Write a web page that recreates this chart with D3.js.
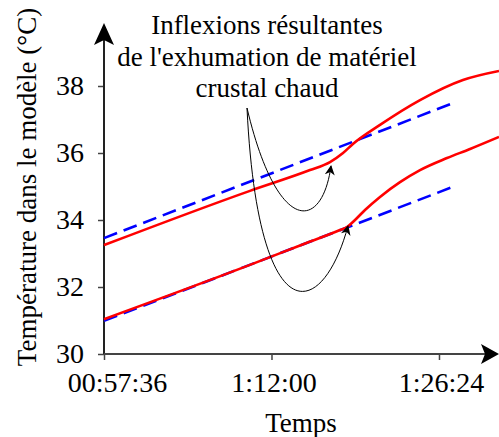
<!DOCTYPE html>
<html>
<head>
<meta charset="utf-8">
<script src="https://cdn.jsdelivr.net/npm/d3@7"></script>
<style>
  html, body { margin: 0; padding: 0; background: #fff; }
  svg text { font-family: "Liberation Serif", "Times New Roman", serif; fill: #000; }
</style>
</head>
<body>
<div id="chart"></div>
<script>
// ---- Data (time in minutes, temperature in °C) ----
const upperRedTime = [57.6, 70.15, 75.31, 77.03, 78.15, 79.0, 81.33, 84.77, 88.46, 91.56];
const upperRedTemp = [33.25, 34.87, 35.49, 35.73, 36.0, 36.27, 36.84, 37.58, 38.18, 38.45];
const upperBlueTime = [57.6, 87.6];
const upperBlueTemp = [33.46, 37.49];
const lowerRedTime = [57.6, 70.15, 74.45, 77.89, 78.49, 79.18, 80.04, 81.33, 83.05, 84.77, 87.09, 89.07, 91.56];
const lowerRedTemp = [31.04, 32.66, 33.24, 33.70, 33.79, 34.0, 34.30, 34.69, 35.13, 35.49, 35.85, 36.12, 36.48];
const lowerBlueTime = [57.6, 87.6];
const lowerBlueTemp = [30.99, 34.99];

const xTickValues = [57.6, 72, 86.4];
const xTickLabels = ["00:57:36", "1:12:00", "1:26:24"];
const yTickValues = [30, 32, 34, 36, 38];

const xLabel = "Temps";
const yLabel = "Température dans le modèle (°C)";
const annotationLines = ["Inflexions résultantes", "de l'exhumation de matériel", "crustal chaud"];

// ---- Layout ----
const W = 499, H = 437;
const svg = d3.select("#chart").append("svg").attr("width", W).attr("height", H);

const x = d3.scaleLinear().domain([57.6, 91.56]).range([104, 499]);
const y = d3.scaleLinear().domain([30, 38]).range([354, 86]);

const fontSize = 27;
const tickFont = 28;
const serif = '"Liberation Serif", "Times New Roman", serif';

// Axes (ticks + labels)
const yAxis = d3.axisLeft(y).tickValues(yTickValues).tickSize(6).tickPadding(14)
  .tickFormat(d3.format("d"));
const gy = svg.append("g").attr("transform", `translate(${x(57.6)},0)`).call(yAxis);
gy.attr("font-family", null);
gy.select(".domain").remove();
gy.selectAll(".tick line").attr("stroke", "#444").attr("stroke-width", 1.5);
gy.selectAll(".tick text").attr("font-size", tickFont).style("font-family", serif);

const xAxis = d3.axisBottom(x).tickValues(xTickValues).tickSize(6).tickPadding(12)
  .tickFormat((d, i) => xTickLabels[i]);
const gx = svg.append("g").attr("transform", `translate(0,${y(30)})`).call(xAxis);
gx.attr("font-family", null);
gx.select(".domain").remove();
gx.selectAll(".tick line").attr("stroke", "#444").attr("stroke-width", 1.5);
gx.selectAll(".tick text").attr("font-size", tickFont).style("font-family", serif)
  .attr("dx", (d, i) => i === 0 ? 13 : 2);

// Axis lines with arrows
const x0 = x(57.6), y0 = y(30);
svg.append("line").attr("x1", x0).attr("y1", y0).attr("x2", x0).attr("y2", 40)
  .attr("stroke", "#222").attr("stroke-width", 2);
svg.append("path")
  .attr("d", `M${x0},23 L${x0 + 10},45 L${x0},40 L${x0 - 10},45 Z`)
  .attr("fill", "#000");
svg.append("line").attr("x1", x0).attr("y1", y0).attr("x2", 486).attr("y2", y0)
  .attr("stroke", "#444").attr("stroke-width", 2);
svg.append("path")
  .attr("d", `M499,${y0} L481,${y0 - 10} L485,${y0} L481,${y0 + 10} Z`)
  .attr("fill", "#000");

// Series
const line = d3.line().x(d => x(d[0])).y(d => y(d[1])).curve(d3.curveMonotoneX);
const zip = (a, b) => a.map((v, i) => [v, b[i]]);

svg.append("path").datum(zip(upperBlueTime, upperBlueTemp)).attr("d", line)
  .attr("fill", "none").attr("stroke", "#0000ff").attr("stroke-width", 2.6).attr("stroke-dasharray", "14,7");
svg.append("path").datum(zip(lowerBlueTime, lowerBlueTemp)).attr("d", line)
  .attr("fill", "none").attr("stroke", "#0000ff").attr("stroke-width", 2.6).attr("stroke-dasharray", "14,7");
svg.append("path").datum(zip(upperRedTime, upperRedTemp)).attr("d", line)
  .attr("fill", "none").attr("stroke", "#ff0000").attr("stroke-width", 2.6);
svg.append("path").datum(zip(lowerRedTime, lowerRedTemp)).attr("d", line)
  .attr("fill", "none").attr("stroke", "#ff0000").attr("stroke-width", 2.6);

// Annotation arrows
const defs = svg.append("defs");
defs.append("marker").attr("id", "ah").attr("viewBox", "0 0 10 10")
  .attr("refX", 9).attr("refY", 5).attr("markerWidth", 10).attr("markerHeight", 10)
  .attr("markerUnits", "userSpaceOnUse").attr("orient", "auto")
  .append("path").attr("d", "M0,0 L10,5 L0,10 L3,5 Z").attr("fill", "#000");

svg.append("path").attr("d", "M247,108 C277,235 322,232 331,166")
  .attr("fill", "none").attr("stroke", "#000").attr("stroke-width", 1).attr("marker-end", "url(#ah)");
svg.append("path").attr("d", "M247,108 C258,335 322,322 348,226")
  .attr("fill", "none").attr("stroke", "#000").attr("stroke-width", 1).attr("marker-end", "url(#ah)");

// Annotation text
const ann = svg.append("text").attr("text-anchor", "middle").attr("font-size", fontSize);
annotationLines.forEach((t, i) => {
  ann.append("tspan").attr("x", 267).attr("y", 34 + i * 31.5).text(t);
});

// Axis titles
svg.append("text").attr("x", 301).attr("y", 432).attr("text-anchor", "middle")
  .attr("font-size", fontSize).text(xLabel);
svg.append("text").attr("transform", "translate(36,187) rotate(-90)")
  .attr("text-anchor", "middle").attr("font-size", fontSize).text(yLabel);
</script>
</body>
</html>
